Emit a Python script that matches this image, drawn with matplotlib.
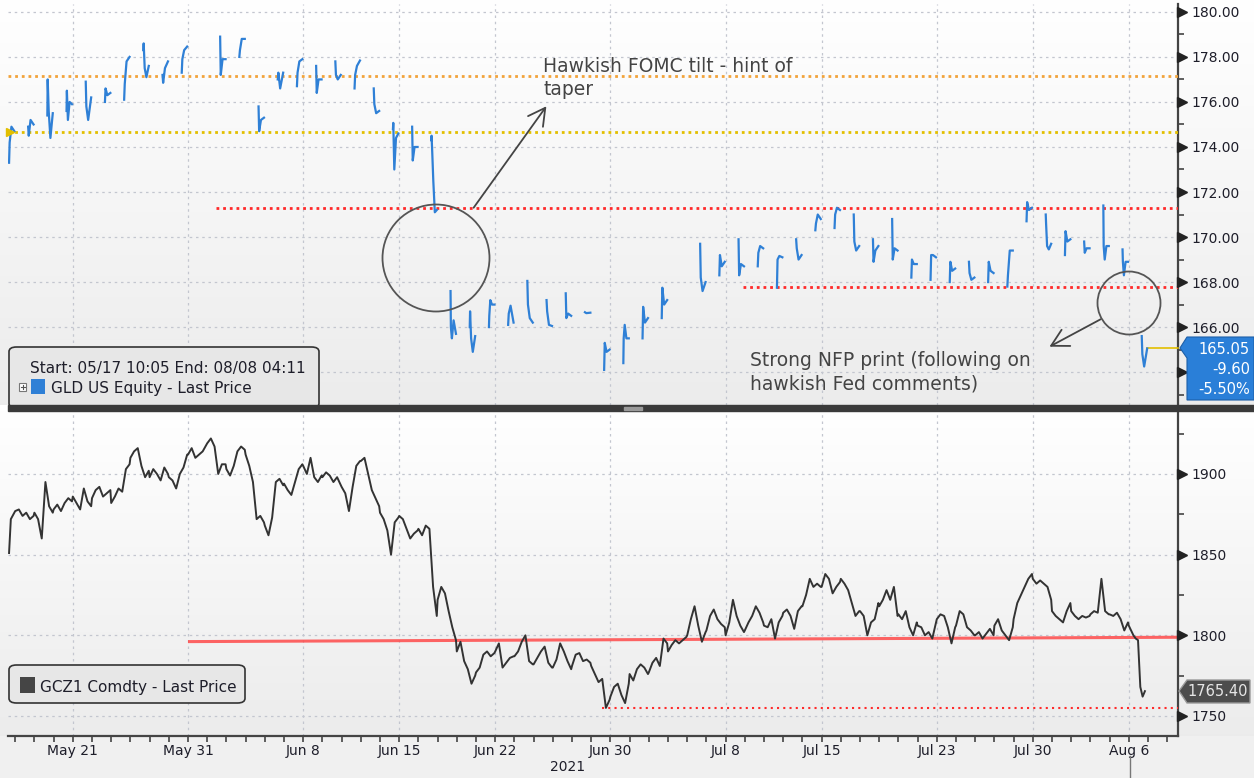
import numpy as np
import matplotlib
matplotlib.use('Agg')
import matplotlib.pyplot as plt
from matplotlib.patches import Polygon, Ellipse, FancyBboxPatch, Rectangle, FancyArrowPatch
from matplotlib.lines import Line2D

# ---------------- data ----------------
tick_days = [4, 10, 16, 21, 26, 32, 38, 43, 49, 54, 59]
tick_labels = ['May 21', 'May 31', 'Jun 8', 'Jun 15', 'Jun 22', 'Jun 30',
               'Jul 8', 'Jul 15', 'Jul 23', 'Jul 30', 'Aug 6']

# GLD US Equity intraday (trading-day index -> prices through the session)
gld_days = [0, 1, 2, 3, 4, 5, 6, 7, 8, 9,
            11, 12, 13, 14, 15, 16, 17, 18, 19, 20, 21, 22, 23, 24, 25, 26, 27,
            28, 29, 30, 31, 32, 33, 34,
            36, 37, 38, 39, 40, 41, 42, 43, 44, 45, 46, 47, 48, 49, 50, 51, 52,
            53, 54, 55, 56, 57, 58, 59]
gld_prices = [
    [173.3, 174.2, 174.9, 174.7],
    [174.9, 174.5, 175.2, 175.0],
    [175.4, 177.0, 175.6, 174.4, 175.5],
    [175.6, 176.5, 175.2, 176.0, 175.9],
    [176.9, 175.8, 175.2, 176.2],
    [176.0, 176.6, 176.3, 176.4],
    [176.1, 176.8, 177.8, 178.0],
    [178.3, 178.6, 177.5, 177.1, 177.6],
    [177.2, 176.85, 177.5, 177.8],
    [177.3, 177.9, 178.3, 178.46],
    [178.9, 177.2, 177.9, 177.9],
    [178.0, 178.3, 178.8, 178.8],
    [175.8, 174.7, 175.2, 175.3],
    [177.0, 177.3, 176.6, 177.3],
    [176.7, 177.3, 177.8, 177.9],
    [177.6, 176.4, 177.0, 177.0],
    [177.8, 177.2, 177.0, 177.2],
    [176.6, 177.2, 177.6, 177.84],
    [176.6, 175.9, 175.5, 175.6],
    [174.8, 175.07, 173.0, 174.4, 174.6],
    [174.9, 173.4, 174.0, 174.0],
    [174.3, 174.5, 173.8, 172.5, 171.1, 171.2],
    [167.6, 166.0, 165.5, 166.3, 165.7],
    [166.0, 166.7, 165.5, 164.9, 165.6],
    [166.0, 166.5, 167.2, 167.0, 167.0],
    [166.1, 166.6, 166.95, 166.2],
    [168.05, 167.0, 166.4, 166.2],
    [167.2, 166.7, 166.1, 166.05],
    [167.5, 166.4, 166.6, 166.5],
    [166.66, 166.62, 166.64],
    [164.1, 165.3, 164.9, 165.0],
    [164.4, 165.5, 166.1, 165.5, 165.5],
    [165.5, 166.9, 166.2, 166.4],
    [166.4, 167.75, 167.0, 167.2],
    [169.7, 168.2, 167.6, 168.0],
    [168.3, 169.2, 168.7, 168.9],
    [169.9, 168.3, 168.8, 168.7],
    [168.7, 169.3, 169.6, 169.5],
    [167.75, 169.0, 169.16, 169.1],
    [169.9, 169.5, 169.0, 169.2],
    [170.3, 170.6, 171.0, 170.8],
    [170.4, 171.0, 171.3, 171.2],
    [171.0, 169.8, 169.4, 169.6],
    [169.9, 168.9, 169.4, 169.6],
    [170.8, 169.0, 169.5, 169.4],
    [168.2, 169.0, 168.8, 168.8],
    [168.1, 169.2, 169.2, 169.1],
    [168.0, 168.9, 168.5, 168.6],
    [168.9, 168.4, 168.1, 168.2],
    [168.0, 168.9, 168.5, 168.4],
    [167.8, 168.3, 169.4, 169.4],
    [170.7, 171.55, 171.2, 171.3],
    [171.0, 170.6, 169.6, 169.45, 169.7],
    [169.2, 170.26, 169.8, 169.9],
    [169.8, 169.3, 169.5, 169.5],
    [171.4, 169.6, 169.0, 169.6, 169.6],
    [169.45, 168.9, 168.3, 168.9, 168.9],
    [165.6, 164.8, 164.25, 165.05],
]

# GCZ1 Comdty intraday, one list per trading day 0..59
gc_prices = [
    [1851, 1872, 1874, 1876],
    [1877, 1878, 1874, 1876, 1872, 1874],
    [1876, 1872, 1860, 1895, 1880, 1876],
    [1878, 1881, 1877, 1882, 1885, 1883],
    [1886, 1882, 1878, 1891, 1883, 1880],
    [1885, 1890, 1892, 1886, 1888, 1890],
    [1882, 1886, 1891, 1889, 1903, 1906],
    [1910, 1914, 1916, 1905, 1898, 1902],
    [1898, 1903, 1900, 1896, 1904, 1900],
    [1898, 1896, 1891, 1900, 1904, 1912],
    [1912, 1916, 1910, 1912, 1914, 1918],
    [1919, 1922, 1917, 1900, 1906, 1906],
    [1903, 1899, 1905, 1914, 1917, 1915],
    [1912, 1905, 1895, 1872, 1874, 1870],
    [1868, 1862, 1873, 1895, 1897, 1893],
    [1894, 1890, 1887, 1895, 1903, 1906],
    [1905, 1900, 1910, 1898, 1895, 1899],
    [1898, 1901, 1899, 1895, 1898, 1893],
    [1892, 1888, 1877, 1892, 1905, 1908],
    [1908, 1910, 1900, 1890, 1885, 1880],
    [1876, 1872, 1865, 1850, 1870, 1873],
    [1874, 1872, 1866, 1860, 1863, 1865],
    [1866, 1862, 1868, 1866, 1830, 1812],
    [1822, 1830, 1826, 1815, 1805, 1797],
    [1790, 1796, 1784, 1779, 1770, 1775],
    [1777, 1780, 1788, 1790, 1787, 1789],
    [1790, 1795, 1780, 1783, 1786, 1787],
    [1787, 1790, 1796, 1800, 1784, 1782],
    [1782, 1786, 1790, 1793, 1783, 1780],
    [1780, 1785, 1795, 1790, 1784, 1779],
    [1781, 1788, 1789, 1784, 1785, 1783],
    [1781, 1776, 1771, 1773, 1755, 1760],
    [1762, 1768, 1770, 1763, 1758, 1770],
    [1776, 1772, 1779, 1782, 1780, 1776],
    [1777, 1783, 1786, 1781, 1798, 1795],
    [1790, 1794, 1797, 1795, 1797, 1799],
    [1800, 1810, 1818, 1806, 1796, 1802],
    [1803, 1812, 1816, 1810, 1807, 1805],
    [1800, 1808, 1822, 1812, 1806, 1802],
    [1803, 1808, 1812, 1818, 1814, 1808],
    [1806, 1805, 1810, 1798, 1808, 1812],
    [1814, 1816, 1812, 1804, 1815, 1818],
    [1818, 1825, 1835, 1830, 1832, 1830],
    [1830, 1838, 1835, 1826, 1830, 1833],
    [1835, 1832, 1828, 1820, 1812, 1815],
    [1815, 1812, 1800, 1808, 1810, 1820],
    [1818, 1822, 1828, 1822, 1830, 1812],
    [1813, 1810, 1815, 1805, 1800, 1808],
    [1806, 1805, 1800, 1802, 1798, 1808],
    [1810, 1813, 1812, 1805, 1795, 1805],
    [1806, 1815, 1813, 1805, 1803, 1800],
    [1800, 1802, 1798, 1801, 1804, 1800],
    [1806, 1810, 1803, 1800, 1797, 1805],
    [1810, 1820, 1825, 1830, 1835, 1838],
    [1835, 1832, 1834, 1832, 1830, 1822],
    [1815, 1812, 1810, 1808, 1815, 1820],
    [1815, 1812, 1810, 1812, 1811, 1812],
    [1813, 1815, 1814, 1835, 1815, 1813],
    [1813, 1812, 1814, 1810, 1803, 1808],
    [1806, 1803, 1800, 1798, 1797, 1768, 1762, 1765.4],
]

# reference lines drawn by the analyst
gld_orange_level = 177.16
gld_yellow_level = 174.67
gld_red_hi = (11.46, 171.3)   # (start day, level)
gld_red_lo = (38.9, 167.8)
gc_trend_x = [10.0, 61.56]
gc_trend_y = [1796.1, 1798.8]
gc_red_lo = (31.56, 1754.8)

# ---------------- layout helpers ----------------
W, H = 1254, 778
def fx(px): return px / W
def fy(py): return 1 - py / H

fig = plt.figure(figsize=(W / 100, H / 100), dpi=100)
fig.patch.set_facecolor('white')

# background gradient
bg = fig.add_axes([0, 0, 1, 1], zorder=-10)
rows = np.ones(H)
r = np.arange(H)
rows = np.where(r < 405, 1 - 0.075 * r / 405, rows)
rows = np.where((r >= 411) & (r < 736), 1 - 0.075 * (r - 411) / 325, rows)
rows = np.where(r >= 736, 0.945, rows)
img = np.repeat(rows[:, None, None], 3, axis=2)
bg.imshow(img, aspect='auto', extent=[0, 1, 0, 1], interpolation='bilinear')
bg.set_axis_off()

XL = (0.625, 61.5625)
ax1 = fig.add_axes([fx(8), fy(405), fx(1178) - fx(8), fy(4) - fy(405)])
ax2 = fig.add_axes([fx(8), fy(736), fx(1178) - fx(8), fy(412) - fy(736)])

GRID = dict(color='#c3c6cf', linestyle=(0, (2, 3)), lw=0.9, zorder=1)
TXT = '#1e1e2a'
for ax in (ax1, ax2):
    ax.set_facecolor('none')
    ax.set_xlim(*XL)
    for s in ('left', 'top'):
        ax.spines[s].set_visible(False)
    ax.spines['right'].set_color('#444444')
    ax.spines['right'].set_linewidth(1.6)
    ax.yaxis.tick_right()
    for d in tick_days:
        ax.axvline(d, **GRID)

# ---------- top panel: GLD ----------
ax1.set_ylim(162.54, 180.35)
ax1.spines['bottom'].set_visible(False)
ax1.set_xticks([])
for v in np.arange(164, 181, 2):
    ax1.axhline(v, **GRID)

xs, ys = [], []
for d, vals in zip(gld_days, gld_prices):
    n = len(vals)
    t0 = 0.68 if d == 0 else 0.674
    for i, v in enumerate(vals):
        frac = (i / (n - 1)) ** 2
        xs.append(d + t0 + (0.957 - t0) * frac)
        ys.append(v)
    xs.append(np.nan); ys.append(np.nan)
ax1.plot(xs, ys, color='#2f80d6', lw=1.6, zorder=5)

DOT = (0, (1, 1.4))
ax1.axhline(gld_orange_level, color='#f2a33a', lw=2, linestyle=DOT, zorder=3)
ax1.axhline(gld_yellow_level, color='#e2bf00', lw=2, linestyle=DOT, zorder=3)
ax1.plot([gld_red_hi[0], XL[1]], [gld_red_hi[1]] * 2, color='#ff2a2a', lw=2, linestyle=DOT, zorder=3)
ax1.plot([gld_red_lo[0], XL[1]], [gld_red_lo[1]] * 2, color='#ff2a2a', lw=2, linestyle=DOT, zorder=3)
ax1.plot([XL[0] + 0.1], [gld_yellow_level], marker='>', color='#e2bf00', ms=6, zorder=6, clip_on=False)
# last price connector
ax1.plot([gld_days[-1] + 0.96, XL[1]], [gld_prices[-1][-1]] * 2, color='#e2bf00', lw=1.2, zorder=4, clip_on=False)

maj1 = np.arange(164, 181, 2)
ax1.set_yticks(maj1)
ax1.set_yticklabels([f'{v:.2f}' if v > 164 else '' for v in maj1])
ax1.set_yticks(np.arange(163, 181, 1), minor=True)
ax1.tick_params(axis='y', which='major', length=0, pad=10, labelsize=10, labelcolor=TXT)
ax1.tick_params(axis='y', which='minor', length=4, width=1.2, color='#444444', direction='out')
ax1.plot([1.0038] * len(maj1), maj1, linestyle='none', marker='>', ms=7, color='#222222',
         transform=ax1.get_yaxis_transform(), clip_on=False, zorder=6)

# ---------- bottom panel: GCZ1 ----------
ax2.set_ylim(1737.6, 1938.4)
for v in (1750, 1800, 1850, 1900):
    ax2.axhline(v, **GRID)

gx, gy = [], []
for d, vals in enumerate(gc_prices):
    n = len(vals)
    if d == 0:
        t0, t1 = 0.68, 0.957
    elif d == len(gc_prices) - 1:
        t0, t1 = 0.0, 0.84
    else:
        t0, t1 = 0.0, 0.957
    for i, v in enumerate(vals):
        gx.append(d + t0 + (t1 - t0) * i / (n - 1))
        gy.append(v)
ax2.plot(gx, gy, color='#333333', lw=1.4, zorder=5)

ax2.plot(gc_trend_x, gc_trend_y, color='#ff4a4a', lw=2.2, alpha=0.85, zorder=4, solid_capstyle='butt')
ax2.plot([gc_red_lo[0], XL[1]], [gc_red_lo[1]] * 2, color='#ff2a2a', lw=1.5, linestyle=(0, (1, 2)), zorder=3)

maj2 = [1750, 1800, 1850, 1900]
ax2.set_yticks(maj2)
ax2.set_yticks([1775, 1825, 1875, 1925], minor=True)
ax2.tick_params(axis='y', which='major', length=0, pad=10, labelsize=10, labelcolor=TXT)
ax2.tick_params(axis='y', which='minor', length=4, width=1.2, color='#444444', direction='out')
ax2.plot([1.0038] * len(maj2), maj2, linestyle='none', marker='>', ms=7, color='#222222',
         transform=ax2.get_yaxis_transform(), clip_on=False, zorder=6)

ax2.spines['bottom'].set_color('#444444')
ax2.spines['bottom'].set_linewidth(1.6)
ax2.set_xticks(tick_days)
ax2.set_xticklabels(tick_labels)
ax2.set_xticks(np.arange(1, 62), minor=True)
ax2.tick_params(axis='x', which='both', length=4, width=1.2, color='#444444', direction='out',
                pad=2, labelsize=10, labelcolor=TXT)

fig.text(fx(568), fy(767), '2021', ha='center', va='center', fontsize=10, color=TXT)
fig.add_artist(Line2D([fx(1130)] * 2, [fy(756), fy(778)], color='#777777', lw=1))

# separator bar between panels
fig.add_artist(Rectangle((fx(8), fy(411)), fx(1254) - fx(8), fy(405) - fy(411),
                         transform=fig.transFigure, color='#3a3a3a', zorder=20))
fig.add_artist(Rectangle((fx(624), fy(409.5)), fx(18), fy(406.5) - fy(409.5),
                         transform=fig.transFigure, color='#9a9a9a', zorder=21))

# ---------- legends ----------
leg1 = FancyBboxPatch((fx(9), fy(408)), fx(310), fy(347) - fy(408),
                      boxstyle='round,pad=0,rounding_size=0.006',
                      transform=fig.transFigure, facecolor='#e7e7e7', edgecolor='#333333',
                      lw=1.2, zorder=10)
fig.add_artist(leg1)
fig.text(fx(30), fy(373), 'Start: 05/17 10:05 End: 08/08 04:11', fontsize=11, color=TXT,
         va='baseline', zorder=11)
fig.add_artist(Rectangle((fx(19), fy(391)), fx(7), fy(383) - fy(391), transform=fig.transFigure,
                         facecolor='white', edgecolor='#777777', lw=0.8, zorder=11))
fig.add_artist(Line2D([fx(20.5), fx(24.5)], [fy(387)] * 2, color='#555555', lw=0.8, zorder=12))
fig.add_artist(Line2D([fx(22.5)] * 2, [fy(385), fy(389)], color='#555555', lw=0.8, zorder=12))
fig.add_artist(Rectangle((fx(31), fy(394)), fx(14), fy(379) - fy(394), transform=fig.transFigure,
                         facecolor='#2f80d6', edgecolor='none', zorder=11))
fig.text(fx(51), fy(393), 'GLD US Equity - Last Price', fontsize=11, color=TXT,
         va='baseline', zorder=11)

leg2 = FancyBboxPatch((fx(9), fy(703)), fx(236), fy(665) - fy(703),
                      boxstyle='round,pad=0,rounding_size=0.006',
                      transform=fig.transFigure, facecolor='#e7e7e7', edgecolor='#333333',
                      lw=1.2, zorder=10)
fig.add_artist(leg2)
fig.add_artist(Rectangle((fx(20), fy(693)), fx(15), fy(677) - fy(693), transform=fig.transFigure,
                         facecolor='#454545', edgecolor='none', zorder=11))
fig.text(fx(40), fy(692), 'GCZ1 Comdty - Last Price', fontsize=11, color=TXT,
         va='baseline', zorder=11)

# ---------- last price boxes ----------
p1 = Polygon([(fx(1180), fy(348)), (fx(1187), fy(337)), (fx(1254), fy(337)),
              (fx(1254), fy(400)), (fx(1187), fy(400)), (fx(1187), fy(358))],
             closed=True, transform=fig.transFigure, facecolor='#2a7fd8', edgecolor='#1d5fa8',
             lw=0.8, zorder=15)
fig.add_artist(p1)
for txt, py in (('165.05', 350), ('-9.60', 369.5), ('-5.50%', 389)):
    fig.text(fx(1250), fy(py), txt, ha='right', va='center', fontsize=10.5, color='white', zorder=16)

p2 = Polygon([(fx(1179), fy(691)), (fx(1187), fy(680)), (fx(1250), fy(680)),
              (fx(1250), fy(703)), (fx(1187), fy(703))],
             closed=True, transform=fig.transFigure, facecolor='#4d4d4d', edgecolor='#9a9a9a',
             lw=1, zorder=15)
fig.add_artist(p2)
fig.text(fx(1218), fy(691.5), '1765.40', ha='center', va='center', fontsize=10.5,
         color='#e6e6e6', zorder=16)

# ---------- annotations ----------
ANN = '#444444'
fig.add_artist(Ellipse((fx(436), fy(258)), fx(107), 107 / H, transform=fig.transFigure,
                       fill=False, edgecolor='#555555', lw=1.3, zorder=8))
fig.add_artist(Ellipse((fx(1129), fy(303)), fx(63), 63 / H, transform=fig.transFigure,
                       fill=False, edgecolor='#555555', lw=1.3, zorder=8))
fig.add_artist(FancyArrowPatch((fx(472), fy(210)), (fx(548), fy(104)), transform=fig.transFigure,
                               arrowstyle='->,head_length=0.55,head_width=0.3', mutation_scale=22,
                               color=ANN, lw=1.3, zorder=8))
fig.add_artist(FancyArrowPatch((fx(1103), fy(318)), (fx(1047), fy(348)), transform=fig.transFigure,
                               arrowstyle='->,head_length=0.55,head_width=0.3', mutation_scale=22,
                               color=ANN, lw=1.3, zorder=8))
fig.text(fx(543), fy(72), 'Hawkish FOMC tilt - hint of', fontsize=13.5, color=ANN, va='baseline')
fig.text(fx(543), fy(95), 'taper', fontsize=13.5, color=ANN, va='baseline')
fig.text(fx(750), fy(366), 'Strong NFP print (following on', fontsize=13.5, color=ANN, va='baseline')
fig.text(fx(750), fy(389), 'hawkish Fed comments)', fontsize=13.5, color=ANN, va='baseline')

fig.savefig('out.png', dpi=100, facecolor=fig.get_facecolor())
